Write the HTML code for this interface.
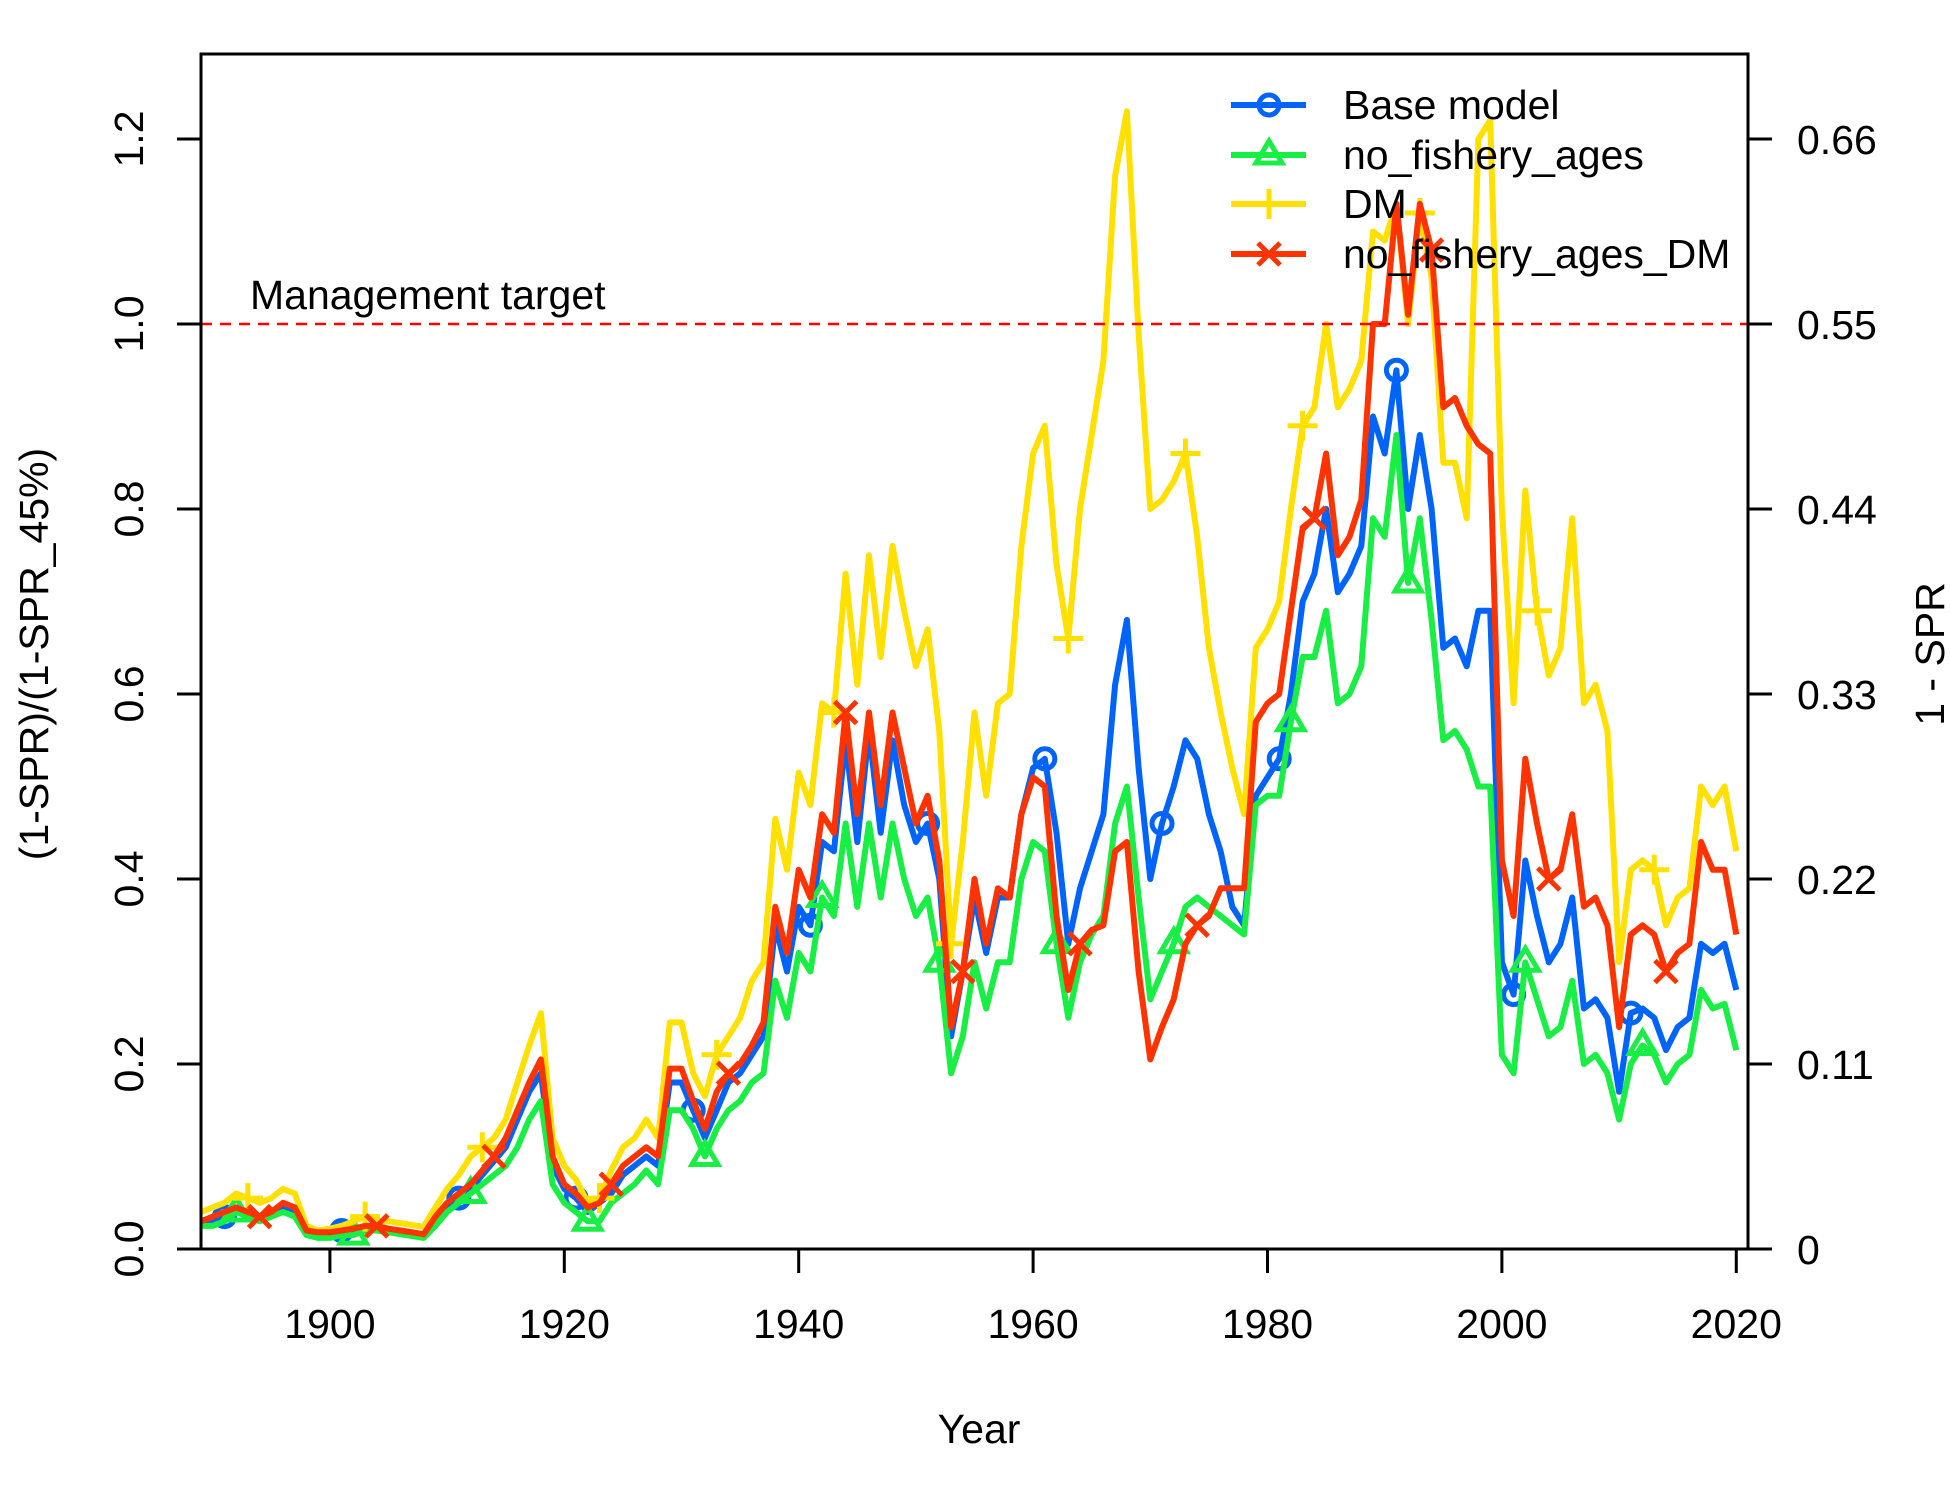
<!DOCTYPE html>
<html><head><meta charset="utf-8"><style>
html,body{margin:0;padding:0;background:#fff;}
svg{display:block;font-family:"Liberation Sans",Arial,sans-serif;}
</style></head><body>
<svg id="chart" width="1950" height="1500" viewBox="0 0 1950 1500" xmlns="http://www.w3.org/2000/svg">
<rect width="1950" height="1500" fill="#fff"/>
<g id="lines"></g>
<g id="axes"></g>
</svg>
<script>
const years = [];
for (let y = 1889; y <= 2020; y++) years.push(y);
const baseModel = [0.03,0.03,0.035,0.04,0.04,0.035,0.04,0.045,0.04,0.02,0.015,0.015,0.02,0.02,0.025,0.025,0.02,0.02,0.018,0.015,0.03,0.045,0.055,0.065,0.08,0.095,0.11,0.14,0.17,0.19,0.09,0.065,0.055,0.04,0.05,0.06,0.08,0.09,0.10,0.09,0.18,0.18,0.15,0.12,0.15,0.18,0.19,0.21,0.23,0.35,0.30,0.37,0.35,0.44,0.43,0.55,0.44,0.56,0.45,0.55,0.48,0.44,0.46,0.40,0.23,0.30,0.38,0.32,0.38,0.38,0.47,0.52,0.53,0.45,0.33,0.39,0.43,0.47,0.61,0.68,0.52,0.40,0.46,0.50,0.55,0.53,0.47,0.43,0.37,0.35,0.49,0.51,0.53,0.60,0.70,0.73,0.80,0.71,0.73,0.76,0.90,0.86,0.95,0.80,0.88,0.80,0.65,0.66,0.63,0.69,0.69,0.31,0.275,0.42,0.36,0.31,0.33,0.38,0.26,0.27,0.25,0.17,0.255,0.26,0.25,0.215,0.24,0.25,0.33,0.32,0.33,0.28];
const noFisheryAges = [0.025,0.025,0.03,0.04,0.035,0.03,0.035,0.04,0.035,0.015,0.012,0.012,0.015,0.015,0.02,0.02,0.018,0.016,0.014,0.012,0.025,0.04,0.05,0.06,0.07,0.08,0.09,0.11,0.14,0.16,0.07,0.05,0.04,0.03,0.03,0.05,0.06,0.07,0.085,0.07,0.15,0.15,0.13,0.10,0.13,0.15,0.16,0.18,0.19,0.29,0.25,0.32,0.30,0.38,0.36,0.46,0.37,0.46,0.38,0.46,0.40,0.36,0.38,0.31,0.19,0.23,0.31,0.26,0.31,0.31,0.40,0.44,0.43,0.33,0.25,0.31,0.34,0.36,0.46,0.50,0.38,0.27,0.30,0.33,0.37,0.38,0.37,0.36,0.35,0.34,0.48,0.49,0.49,0.57,0.64,0.64,0.69,0.59,0.60,0.63,0.79,0.77,0.88,0.72,0.79,0.68,0.55,0.56,0.54,0.50,0.50,0.21,0.19,0.31,0.27,0.23,0.24,0.29,0.20,0.21,0.19,0.14,0.20,0.22,0.21,0.18,0.20,0.21,0.28,0.26,0.265,0.215];
const dm = [0.04,0.045,0.05,0.06,0.055,0.05,0.055,0.065,0.06,0.025,0.02,0.022,0.025,0.03,0.035,0.03,0.03,0.028,0.026,0.024,0.045,0.065,0.08,0.10,0.11,0.12,0.14,0.18,0.22,0.255,0.12,0.09,0.075,0.05,0.055,0.085,0.11,0.12,0.14,0.12,0.245,0.245,0.19,0.165,0.21,0.23,0.25,0.29,0.31,0.465,0.41,0.515,0.48,0.59,0.58,0.73,0.61,0.75,0.64,0.76,0.69,0.63,0.67,0.56,0.33,0.44,0.58,0.49,0.59,0.60,0.76,0.86,0.89,0.74,0.66,0.80,0.88,0.96,1.16,1.23,0.99,0.80,0.81,0.83,0.86,0.77,0.65,0.58,0.52,0.47,0.65,0.67,0.70,0.80,0.89,0.91,1.00,0.91,0.93,0.96,1.10,1.09,1.13,1.00,1.12,1.05,0.85,0.85,0.79,1.20,1.22,0.80,0.59,0.82,0.69,0.62,0.65,0.79,0.59,0.61,0.56,0.31,0.41,0.42,0.41,0.35,0.38,0.39,0.50,0.48,0.50,0.43];
const noFisheryAgesDM = [0.03,0.035,0.04,0.045,0.04,0.035,0.04,0.05,0.045,0.02,0.018,0.018,0.02,0.022,0.025,0.025,0.022,0.02,0.018,0.016,0.035,0.05,0.06,0.07,0.085,0.10,0.12,0.15,0.18,0.205,0.10,0.07,0.06,0.045,0.05,0.07,0.09,0.10,0.11,0.10,0.195,0.195,0.16,0.13,0.17,0.19,0.20,0.22,0.245,0.37,0.32,0.41,0.38,0.47,0.45,0.58,0.47,0.58,0.48,0.58,0.52,0.46,0.49,0.42,0.24,0.30,0.40,0.33,0.39,0.38,0.47,0.51,0.50,0.36,0.28,0.33,0.345,0.35,0.43,0.44,0.30,0.205,0.24,0.27,0.33,0.35,0.36,0.39,0.39,0.39,0.57,0.59,0.60,0.69,0.78,0.79,0.86,0.75,0.77,0.81,1.00,1.00,1.13,1.01,1.13,1.08,0.91,0.92,0.89,0.87,0.86,0.42,0.36,0.53,0.46,0.40,0.41,0.47,0.37,0.38,0.35,0.24,0.34,0.35,0.34,0.30,0.32,0.33,0.44,0.41,0.41,0.34];
const xTicks = [1900,1920,1940,1960,1980,2000,2020];
const yTicks = [0.0,0.2,0.4,0.6,0.8,1.0,1.2];
const yTickLabels = ["0.0","0.2","0.4","0.6","0.8","1.0","1.2"];
const y2TickLabels = ["0","0.11","0.22","0.33","0.44","0.55","0.66"];
const seriesNames = ["Base model","no_fishery_ages","DM","no_fishery_ages_DM"];
const targetValue = 1.0;

const NS = "http://www.w3.org/2000/svg";
const L = 201, R = 1748, T = 54, B = 1249;
const xMin = 1889, xMax = 2021;
const FS = 41;
function xs(v){ return L + (v - xMin) / (xMax - xMin) * (R - L); }
function ys(v){ return B - v * 925; }
function mk(tag, attrs, parent){ const e = document.createElementNS(NS, tag); for (const k in attrs) e.setAttribute(k, attrs[k]); parent.appendChild(e); return e; }

const lines = document.getElementById('lines');
const axes = document.getElementById('axes');
const cols = ["#0064FA","#18EE43","#FFE000","#FF3300"];
const data = [baseModel, noFisheryAges, dm, noFisheryAgesDM];
const startOff = [2,3,4,5];
const sw = 6;

function marker(kind, cx, cy, col, parent){
  const r = 10;
  if (kind === 0) { const c = mk('circle',{cx:cx,cy:cy,r:r,fill:'none',stroke:col,'stroke-width':5},parent);   }
  else if (kind === 1) { const p = mk('polygon',{points:`${cx},${cy-14} ${cx-13},${cy+8} ${cx+13},${cy+8}`,fill:'none',stroke:col,'stroke-width':5},parent);   }
  else if (kind === 2) { const p = mk('path',{d:`M${cx-15},${cy}H${cx+15}M${cx},${cy-15}V${cy+15}`,stroke:col,'stroke-width':5},parent);   }
  else { const p = mk('path',{d:`M${cx-11},${cy-11}L${cx+11},${cy+11}M${cx-11},${cy+11}L${cx+11},${cy-11}`,stroke:col,'stroke-width':5},parent);   }
}

data.forEach((arr, si) => {
  const g = mk('g', {}, lines);
  
  
  const pts = arr.map((v,i) => xs(years[i]).toFixed(1) + ',' + ys(v).toFixed(1)).join(' ');
  const pl = mk('polyline', {points: pts, fill:'none', stroke: cols[si], 'stroke-width': sw, 'stroke-linejoin':'round'}, g);
  
  
  for (let i = startOff[si]; i < arr.length; i += 10) marker(si, xs(years[i]), ys(arr[i]), cols[si], g);
});

const tl = mk('line', {x1:L, x2:R, y1:ys(targetValue), y2:ys(targetValue), stroke:'#FF0000', 'stroke-width':2.5, 'stroke-dasharray':'11,8'}, axes);


const tt = mk('text', {x:250, y:309, 'font-size':FS}, axes);
tt.textContent = 'Management target';



const box = mk('rect', {x:L, y:T, width:R-L, height:B-T, fill:'none', stroke:'#000', 'stroke-width':3}, axes);



const xa = mk('line', {x1:xs(1890)-25, x2:xs(2020)+13, y1:B, y2:B, stroke:'#000', 'stroke-width':3}, axes);


xTicks.forEach(t => {
  const tk = mk('line', {x1:xs(t), x2:xs(t), y1:B, y2:B+24, stroke:'#000', 'stroke-width':3}, axes);
  
  
  const lb = mk('text', {x:xs(t), y:1338, 'font-size':FS, 'text-anchor':'middle'}, axes);
  lb.textContent = String(t);
  
  
});

yTicks.forEach((t, i) => {
  const tk = mk('line', {x1:L-24, x2:L, y1:ys(t), y2:ys(t), stroke:'#000', 'stroke-width':3}, axes);
  
  
  const lb = mk('text', {x:0, y:0, 'font-size':FS, 'text-anchor':'middle', transform:`translate(143,${ys(t)}) rotate(-90)`}, axes);
  lb.textContent = yTickLabels[i];
  
  
  const tk2 = mk('line', {x1:R, x2:R+24, y1:ys(t), y2:ys(t), stroke:'#000', 'stroke-width':3}, axes);
  
  
  const lb2 = mk('text', {x:1797, y:ys(t)+15, 'font-size':FS}, axes);
  lb2.textContent = y2TickLabels[i];
  
  
});

const yt = mk('text', {x:0, y:0, 'font-size':FS, 'text-anchor':'middle', transform:'translate(48,654) rotate(-90)'}, axes);
yt.textContent = '(1-SPR)/(1-SPR_45%)';


const yt2 = mk('text', {x:0, y:0, 'font-size':FS, 'text-anchor':'middle', transform:'translate(1944,654) rotate(-90)'}, axes);
yt2.textContent = '1 - SPR';


const xt = mk('text', {x:979, y:1443, 'font-size':FS, 'text-anchor':'middle'}, axes);
xt.textContent = 'Year';



const lg = mk('g', {}, axes);


const rowsY = [105,155,204,254];
seriesNames.forEach((n, i) => {
  const e = mk('g', {}, lg);
  
  
  mk('line', {x1:1231, x2:1306, y1:rowsY[i], y2:rowsY[i], stroke:cols[i], 'stroke-width':sw}, e);
  marker(i, 1269, rowsY[i], cols[i], e);
  const t = mk('text', {x:1343, y:rowsY[i]+14, 'font-size':FS}, e);
  t.textContent = n;
  
  
});
</script>
</body></html>
